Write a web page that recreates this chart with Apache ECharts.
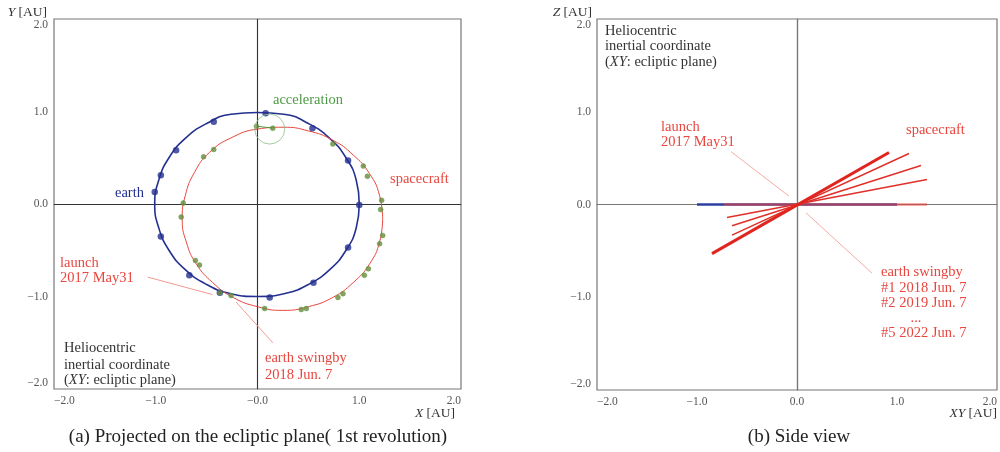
<!DOCTYPE html>
<html>
<head>
<meta charset="utf-8">
<script src="https://cdn.jsdelivr.net/npm/echarts@6/dist/echarts.min.js"></script>
<style>
  html, body { margin: 0; padding: 0; background: #fff; }
  #chart { width: 1000px; height: 452px; }
</style>
</head>
<body>
<div id="chart"></div>
<script>
  // axis ticks (both panels)
  const ticks = [-2, -1, 0, 1, 2];

  // (a) ecliptic plane, values in AU
  const earthOrbit = [[1, 0], [0.97, 0.26], [0.87, 0.5], [0.71, 0.71], [0.5, 0.87], [0.26, 0.97], [0, 0.99],
    [-0.26, 0.97], [-0.5, 0.87], [-0.71, 0.71], [-0.87, 0.5], [-0.97, 0.26], [-1.01, 0], [-0.97, -0.26],
    [-0.87, -0.5], [-0.71, -0.71], [-0.5, -0.87], [-0.26, -0.97], [0, -1], [0.26, -0.97], [0.5, -0.87],
    [0.71, -0.71], [0.87, -0.5], [0.97, -0.26], [1, 0]];
  const earthDots = [[0.08, 0.98], [-0.43, 0.89], [-0.8, 0.58], [-0.95, 0.31], [-1.01, 0.13], [-0.95, -0.35],
    [-0.67, -0.77], [-0.37, -0.96], [0.12, -1.01], [0.55, -0.85], [0.89, -0.47], [1.0, -0.01], [0.89, 0.47], [0.54, 0.82]];
  const craftOrbit = [[1.23, -0.16], [1.2, 0.09], [1.1, 0.33], [0.94, 0.53], [0.74, 0.69], [0.5, 0.79], [0.25, 0.83],
    [0.0, 0.81], [-0.25, 0.72], [-0.47, 0.56], [-0.62, 0.34], [-0.71, 0.09], [-0.74, -0.16], [-0.7, -0.41],
    [-0.6, -0.65], [-0.44, -0.85], [-0.24, -1.01], [0.0, -1.11], [0.25, -1.15], [0.5, -1.11], [0.74, -1.01],
    [0.94, -0.85], [1.1, -0.65], [1.2, -0.41], [1.23, -0.16]];
  const craftDots = [[-0.01, 0.84], [0.15, 0.82], [0.74, 0.65], [1.04, 0.41], [1.08, 0.3], [1.22, 0.04], [1.21, -0.06],
    [1.23, -0.34], [1.2, -0.43], [1.09, -0.7], [1.05, -0.77], [0.84, -0.97], [0.79, -1.01], [0.48, -1.13],
    [0.43, -1.14], [0.07, -1.13], [-0.26, -0.99], [-0.37, -0.96], [-0.57, -0.66], [-0.61, -0.61], [-0.75, -0.14],
    [-0.73, 0.01], [-0.53, 0.51], [-0.43, 0.59]];
  const accelCircle = [[0.12, 0.81]];
  const accelVector = [[0.0, 0.84], [0.15, 0.82]];
  const launchLeaderA = [[-1.08, -0.79], [-0.44, -0.98]];
  const swingbyLeaderA = [[0.15, -1.5], [-0.21, -1.06]];

  // (b) side view, XY vs Z in AU
  const sideEarth = [[-1.0, 0], [1.0, 0]];
  const sideRev1 = [[-0.73, 0], [1.3, 0]];
  const sideRevs = [
    [[-0.7, -0.14], [1.3, 0.27]],
    [[-0.65, -0.23], [1.24, 0.42]],
    [[-0.65, -0.33], [1.12, 0.55]]
  ];
  const sideRevLast = [[-0.85, -0.53], [0.92, 0.56]];
  const launchLeaderB = [[-0.66, 0.57], [-0.08, 0.09]];
  const swingbyLeaderB = [[0.09, -0.09], [0.75, -0.74]];

  const serif = '"Liberation Serif", "DejaVu Serif", serif';
  const red = '#e8463e';
  const blue = '#24308f';
  const green = '#4f9a45';

  function fmt(v) {
    return (v < 0 ? '\u2212' : '') + Math.abs(v).toFixed(1);
  }

  function makeAxis(idx, isX, zeroLabel) {
    return {
      type: 'value', gridIndex: idx, min: ticks[0], max: ticks[ticks.length - 1], interval: 1,
      axisLine: { show: true, lineStyle: { color: '#777', width: 1.2 } },
      axisTick: { show: false },
      splitLine: { show: false },
      axisLabel: {
        color: '#555', fontFamily: serif, fontSize: 11.5, margin: 6,
        formatter: v => (v === 0 ? zeroLabel : fmt(v)),
        alignMinLabel: isX ? 'left' : null,
        alignMaxLabel: isX ? 'right' : null,
        verticalAlignMinLabel: isX ? null : 'bottom',
        verticalAlignMaxLabel: isX ? null : 'top'
      }
    };
  }

  function zeroLines(color, width) {
    return {
      silent: true, symbol: 'none', animation: false, z: 1,
      label: { show: false },
      lineStyle: { color: color, width: width, type: 'solid' },
      data: [{ xAxis: 0 }, { yAxis: 0 }]
    };
  }

  function seg(data, idx, color, width, opacity, extra) {
    return Object.assign({
      type: 'line', xAxisIndex: idx, yAxisIndex: idx, data: data, showSymbol: false,
      lineStyle: { color: color, width: width, opacity: opacity == null ? 1 : opacity },
      silent: true, animation: false, z: 6
    }, extra || {});
  }

  function txt(x, y, text, color, opts) {
    opts = opts || {};
    const size = opts.size || 14.5;
    return {
      type: 'text', x: x, y: y, z: 100,
      style: {
        text: text, fill: color, font: size + 'px ' + serif,
        textAlign: opts.align || 'left', textVerticalAlign: 'middle', lineHeight: opts.lh || 17,
        rich: {
          i: { fontStyle: 'italic', fontFamily: serif, fontSize: size, fill: color },
          n: { fontFamily: serif, fontSize: size, fill: color }
        }
      }
    };
  }

  const myChart = echarts.init(document.getElementById('chart'));
  myChart.setOption({
    animation: false,
    grid: [
      { left: 54, top: 19, width: 407, height: 370, show: true, borderColor: '#777', borderWidth: 1.2 },
      { left: 597, top: 19, width: 400, height: 371, show: true, borderColor: '#777', borderWidth: 1.2 }
    ],
    xAxis: [makeAxis(0, true, '\u22120.0'), makeAxis(1, true, '0.0')],
    yAxis: [makeAxis(0, false, '0.0'), makeAxis(1, false, '0.0')],
    series: [
      // panel (a)
      seg(launchLeaderA, 0, '#f29a92', 1, 1, { z: 1, markLine: zeroLines('#333', 1) }),
      seg(swingbyLeaderA, 0, '#f29a92', 1),
      seg(earthOrbit, 0, blue, 1.6, 1, { smooth: true }),
      seg(craftOrbit, 0, red, 1, 1, { smooth: true }),
      seg(accelVector, 0, green, 1),
      {
        type: 'scatter', xAxisIndex: 0, yAxisIndex: 0, data: earthDots, symbolSize: 6.5, z: 7,
        itemStyle: { color: blue }, silent: true, animation: false
      },
      {
        type: 'scatter', xAxisIndex: 0, yAxisIndex: 0, data: craftDots, symbolSize: 5, z: 7,
        itemStyle: { color: '#6a8a3a', borderColor: '#5aa04a', borderWidth: 0.5 }, silent: true, animation: false
      },
      {
        type: 'scatter', xAxisIndex: 0, yAxisIndex: 0, data: accelCircle, symbol: 'circle', symbolSize: 30, z: 7,
        itemStyle: { color: 'rgba(0,0,0,0)', borderColor: '#8cc08a', borderWidth: 1 }, silent: true, animation: false
      },
      // panel (b)
      seg(launchLeaderB, 1, '#f4aaa4', 1, 1, { z: 1, markLine: zeroLines('#777', 1.2) }),
      seg(swingbyLeaderB, 1, '#f4aaa4', 1),
      seg(sideEarth, 1, '#2b3fa0', 2.5, 1, { z: 6 }),
      seg(sideRev1, 1, '#e8453c', 2.5, 0.6, { z: 7 }),
      ...sideRevs.map(d => seg(d, 1, '#e0302a', 1.5, 1, { z: 8 })),
      seg(sideRevLast, 1, '#e0251e', 3, 1, { z: 8 })
    ],
    graphic: [
      // panel (a) labels
      txt(273, 100, 'acceleration', green),
      txt(115, 193, 'earth', blue),
      txt(390, 179, 'spacecraft', red),
      txt(60, 263, 'launch', red),
      txt(60, 278, '2017 May31', red),
      txt(265, 358, 'earth swingby', red),
      txt(265, 375, '2018 Jun. 7', red),
      txt(64, 348, 'Heliocentric', '#333'),
      txt(64, 365, 'inertial coordinate', '#333'),
      txt(64, 380, '({i|XY}{n|: ecliptic plane)}', '#333'),
      // panel (b) labels
      txt(605, 31, 'Heliocentric', '#333'),
      txt(605, 46, 'inertial coordinate', '#333'),
      txt(605, 62, '({i|XY}{n|: ecliptic plane)}', '#333'),
      txt(661, 127, 'launch', red),
      txt(661, 142, '2017 May31', red),
      txt(906, 130, 'spacecraft', red),
      txt(881, 272, 'earth swingby', red),
      txt(881, 288, '#1 2018 Jun. 7', red),
      txt(881, 303, '#2 2019 Jun. 7', red),
      txt(916, 318, '...', red, { align: 'center' }),
      txt(881, 333, '#5 2022 Jun. 7', red),
      // axis names
      txt(47, 12, '{i|Y} {n|[AU]}', '#333', { align: 'right', size: 13.5 }),
      txt(455, 413, '{i|X} {n|[AU]}', '#333', { align: 'right', size: 13.5 }),
      txt(592, 12, '{i|Z} {n|[AU]}', '#333', { align: 'right', size: 13.5 }),
      txt(997, 413, '{i|XY} {n|[AU]}', '#333', { align: 'right', size: 13.5 }),
      // captions
      txt(258, 437, '(a) Projected on the ecliptic plane( 1st revolution)', '#222', { size: 19, align: 'center' }),
      txt(799, 437, '(b) Side view', '#222', { size: 19, align: 'center' })
    ]
  });
</script>
</body>
</html>
